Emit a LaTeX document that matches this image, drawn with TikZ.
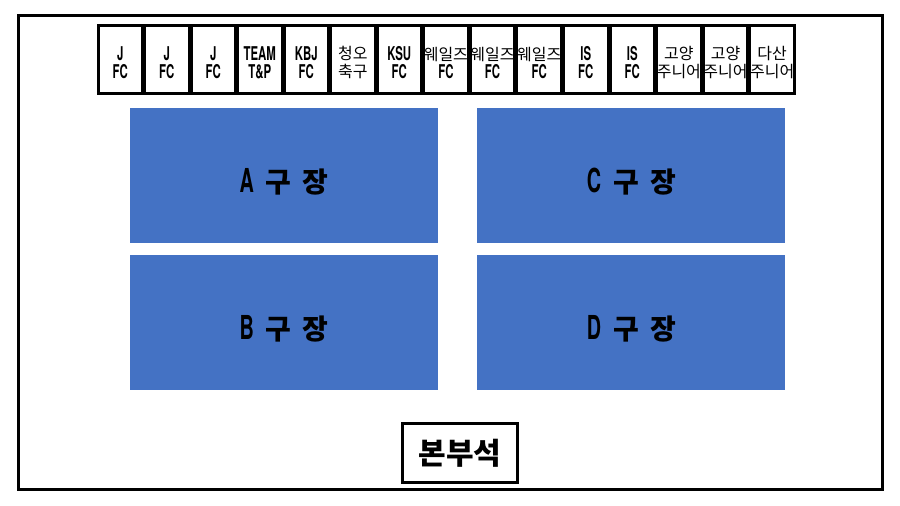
\documentclass[tikz,border=0pt]{standalone}
\usepackage{fontspec}
\setmainfont{TeX Gyre Heros}[FakeStretch=0.6]
\newfontfamily\kr{Noto Sans CJK KR}
\usetikzlibrary{positioning}
\definecolor{fieldblue}{HTML}{4472C4}
\newcommand{\ko}[1]{{\kr\mdseries\fontsize{16}{18}\selectfont #1}}
\newcommand{\lift}{\rule{0pt}{20pt}}
\newcommand{\gujang}[1]{{\rmfamily\fontsize{33}{33}\selectfont #1}\hspace{12pt}구\hspace{11pt}장}
\tikzstyle{team} = [rectangle, minimum width=44pt, minimum height=68pt, inner sep=0pt, align=center, draw=black, line width=2.5pt, fill=white, font=\fontsize{19}{18}\selectfont\bfseries]
\tikzstyle{field} = [rectangle, minimum width=308pt, minimum height=135pt, inner sep=0pt, text height=34pt, text depth=0pt, fill=fieldblue, font=\kr\fontsize{28}{28}\selectfont\bfseries]
\tikzstyle{stand} = [rectangle, minimum width=115pt, minimum height=59pt, inner sep=0pt, draw=black, line width=3pt, font=\kr\fontsize{30}{30}\selectfont\bfseries]

\begin{document}
\begin{tikzpicture}[x=1pt, y=-1pt]

\useasboundingbox (0,0) rectangle (900,506);
\draw [line width=3pt] (18.5,15.5) rectangle (882,489);

\node (t1) [team] at (120.3,59.5) {\lift J\\FC};
\node (t2) [team, right=0pt of t1] {\lift J\\FC};
\node (t3) [team, right=0pt of t2] {\lift J\\FC};
\node (t4) [team, right=0pt of t3] {\lift TEAM\\T\&P};
\node (t5) [team, right=0pt of t4] {\lift KBJ\\FC};
\node (t6) [team, right=0pt of t5] {\lift\ko{청오}\\\ko{축구}};
\node (t7) [team, right=0pt of t6] {\lift KSU\\FC};
\node (t8) [team, right=0pt of t7] {\lift\ko{웨일즈}\\FC};
\node (t9) [team, right=0pt of t8] {\lift\ko{웨일즈}\\FC};
\node (t10) [team, right=0pt of t9] {\lift\ko{웨일즈}\\FC};
\node (t11) [team, right=0pt of t10] {\lift IS\\FC};
\node (t12) [team, right=0pt of t11] {\lift IS\\FC};
\node (t13) [team, right=0pt of t12] {\lift\ko{고양}\\\ko{주니어}};
\node (t14) [team, right=0pt of t13] {\lift\ko{고양}\\\ko{주니어}};
\node (t15) [team, right=0pt of t14] {\lift\ko{다산}\\\ko{주니어}};

\node (fieldA) [field] at (284,175) {\gujang{A}};
\node (fieldB) [field, below=12.5pt of fieldA] {\gujang{B}};
\node (fieldC) [field, right=39pt of fieldA] {\gujang{C}};
\node (fieldD) [field, below=12.5pt of fieldC] {\gujang{D}};

\node (stand) [stand] at (459.8,452.8) {본부석};

\end{tikzpicture}
\end{document}
